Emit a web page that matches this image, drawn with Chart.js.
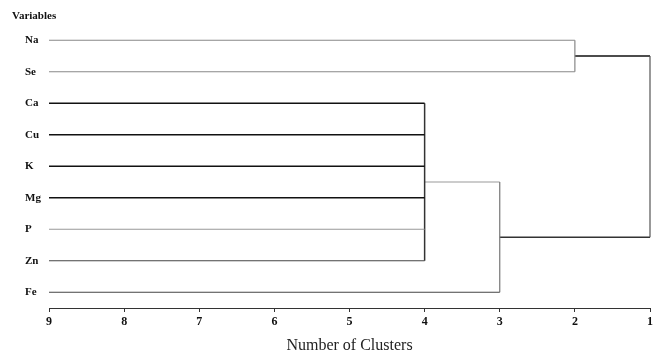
<!DOCTYPE html>
<html lang="en">
<head>
  <meta charset="UTF-8" />
  <title>Dendrogram - Number of Clusters</title>
  <script src="https://cdn.jsdelivr.net/npm/chart.js@4.4.1/dist/chart.umd.min.js"></script>
  <style>
    body {
      margin: 0;
      background-color: #ffffff;
    }
  </style>
</head>
<body>
  <canvas id="dendroChart" width="653" height="355"></canvas>

  <script>
    // ------------
    // DATA
    // ------------
    const variables = ["Na", "Se", "Ca", "Cu", "K", "Mg", "P", "Zn", "Fe"];
    const clusterTicks = [9, 8, 7, 6, 5, 4, 3, 2, 1];
    // merges in order; "#n" refers to an earlier merge
    const mergeMembers = [
      ["Na", "Se"],
      ["Ca", "Cu", "K", "Mg", "P", "Zn"],
      ["#1", "Fe"],
      ["#0", "#2"],
    ];
    const mergeLevels = [2, 4, 3, 1];

    // ------------
    // STYLES
    // ------------
    const leafColors = ["#888", "#888", "#111", "#111", "#111", "#111", "#999", "#444", "#444"];
    const mergeColors = ["#888", "#333", "#777", "#555"];   // vertical brackets
    const linkColors = ["#111", "#999", "#333", null];       // link up to parent
    const serif = "'Liberation Serif', 'Times New Roman', serif";

    // -------------------------------
    // BUILD SEGMENTS FROM THE TREE
    // -------------------------------
    const datasets = [];
    const mergeMid = [];
    const parentOf = {};

    mergeMembers.forEach((members, m) => {
      members.forEach((name) => {
        parentOf[name] = m;
      });
    });

    function seg(a, b, color) {
      datasets.push({
        data: [a, b],
        borderColor: color,
        borderWidth: color === "#111" || color === "#333" ? 1.5 : 1.2,
        pointRadius: 0,
        showLine: true,
        fill: false,
        clip: false,
      });
    }

    // leaves
    variables.forEach((name, i) => {
      const level = mergeLevels[parentOf[name]];
      seg({ x: 9, y: i }, { x: level, y: i }, leafColors[i]);
    });

    // merges
    mergeMembers.forEach((members, m) => {
      const ys = members.map((name) =>
        name.startsWith("#") ? mergeMid[+name.slice(1)] : variables.indexOf(name)
      );
      const level = mergeLevels[m];
      mergeMid[m] = ys.reduce((s, v) => s + v, 0) / ys.length;
      seg({ x: level, y: Math.min(...ys) }, { x: level, y: Math.max(...ys) }, mergeColors[m]);
    });

    // links from each merge to its parent
    mergeMembers.forEach((members, m) => {
      const parent = parentOf["#" + m];
      if (parent === undefined) return;
      seg(
        { x: mergeLevels[m], y: mergeMid[m] },
        { x: mergeLevels[parent], y: mergeMid[m] },
        linkColors[m]
      );
    });

    // "Variables" header above the row labels
    const headerPlugin = {
      id: "header",
      afterDraw(chart) {
        const ctx = chart.ctx;
        ctx.save();
        ctx.font = "bold 11px " + serif;
        ctx.fillStyle = "#111";
        ctx.textBaseline = "middle";
        ctx.fillText("Variables", 12, 16);
        ctx.restore();
      },
    };

    // -------------------------------
    // CHART
    // -------------------------------
    new Chart(document.getElementById("dendroChart"), {
      type: "scatter",
      data: { datasets: datasets },
      plugins: [headerPlugin],
      options: {
        responsive: false,
        animation: false,
        layout: {
          padding: { top: 24.5, left: 25, right: 3, bottom: 0 },
        },
        plugins: {
          legend: { display: false },
          tooltip: { enabled: false },
        },
        scales: {
          x: {
            type: "linear",
            position: "bottom",
            reverse: true,
            min: 1,
            max: 9,
            afterBuildTicks: (scale) => {
              scale.ticks = clusterTicks.map((v) => ({ value: v }));
            },
            afterFit: (scale) => {
              scale.height = 47;
              // let the last label run to the edge, like the original
              scale.paddingRight = 0;
            },
            grid: {
              display: true,
              drawOnChartArea: false,
              drawTicks: true,
              tickLength: 4,
              color: "#333",
            },
            border: { display: true, color: "#333", width: 1 },
            ticks: {
              padding: 3,
              color: "#111",
              font: { family: serif, size: 12, weight: "bold" },
              maxRotation: 0,
            },
            title: {
              display: true,
              text: "Number of Clusters",
              color: "#222",
              padding: { top: 0, bottom: 0 },
              font: { family: serif, size: 16, weight: "normal" },
            },
          },
          y: {
            type: "linear",
            reverse: true,
            min: -0.5,
            max: 8.5,
            afterBuildTicks: (scale) => {
              scale.ticks = variables.map((_, i) => ({ value: i }));
            },
            afterFit: (scale) => {
              scale.width = 24;
            },
            grid: { display: false },
            border: { display: false },
            ticks: {
              crossAlign: "far",
              color: "#111",
              font: { family: serif, size: 11, weight: "bold" },
              callback: (v) => variables[v],
            },
          },
        },
      },
    });
  </script>
</body>
</html>
